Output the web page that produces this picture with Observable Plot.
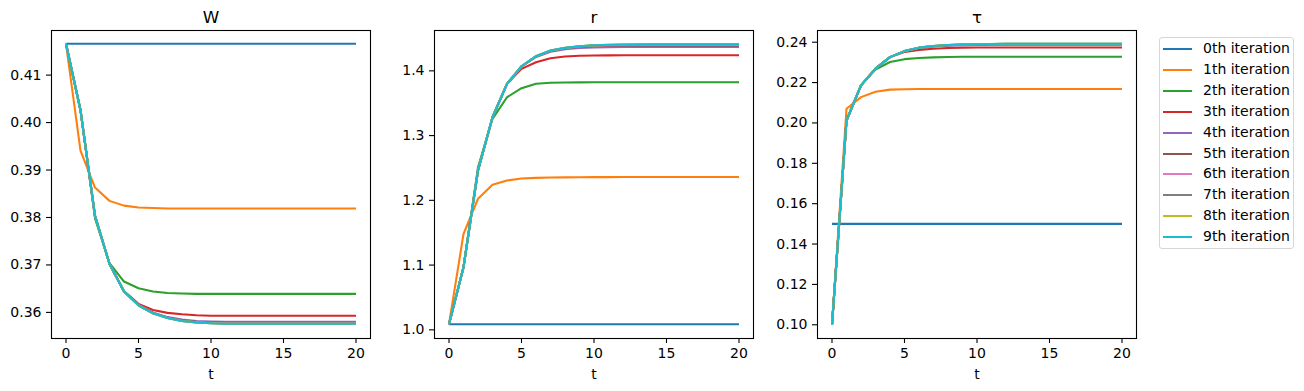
<!DOCTYPE html>
<html>
<head>
<meta charset="utf-8">
<script src="https://cdn.jsdelivr.net/npm/d3@7"></script>
<script src="https://cdn.jsdelivr.net/npm/@observablehq/plot@0.6"></script>
<style>
  html, body { margin: 0; padding: 0; background: #fff; }
  body { width: 1304px; height: 391px; position: relative; overflow: hidden; font-family: "DejaVu Sans", sans-serif; }
  .panel { position: absolute; top: 0; }
  #legend { position: absolute; left: 1159px; top: 37px; width: 135px; height: 212px; border: 1px solid #d6d6d6; border-radius: 3px; box-sizing: border-box; background: #fff; }
  .item { position: absolute; left: 0; height: 20px; width: 135px; font-size: 14px; color: #000; }
  .sw { position: absolute; left: 3px; width: 29px; height: 2px; }
  .lb { position: absolute; left: 43px; white-space: nowrap; }
</style>
</head>
<body>
<div id="p0" class="panel"></div>
<div id="p1" class="panel"></div>
<div id="p2" class="panel"></div>
<div id="legend"></div>
<script>
const t = [0,1,2,3,4,5,6,7,8,9,10,11,12,13,14,15,16,17,18,19,20];

const iterLabels = ["0th iteration","1th iteration","2th iteration","3th iteration","4th iteration",
                    "5th iteration","6th iteration","7th iteration","8th iteration","9th iteration"];
const iterColors = ["#1f77b4","#ff7f0e","#2ca02c","#d62728","#9467bd","#8c564b","#e377c2","#7f7f7f","#bcbd22","#17becf"];

const panelTitles = ["W", "r", "τ"];

const W_series = [
  [0.4166,0.4166,0.4166,0.4166,0.4166,0.4166,0.4166,0.4166,0.4166,0.4166,0.4166,0.4166,0.4166,0.4166,0.4166,0.4166,0.4166,0.4166,0.4166,0.4166,0.4166],
  [0.4166,0.3941,0.3863,0.3835,0.3825,0.3821,0.3820,0.3819,0.3819,0.3819,0.3819,0.3819,0.3819,0.3819,0.3819,0.3819,0.3819,0.3819,0.3819,0.3819,0.3819],
  [0.4166,0.4026,0.3798,0.3704,0.3665,0.3651,0.3644,0.3641,0.3640,0.3639,0.3639,0.3639,0.3639,0.3639,0.3639,0.3639,0.3639,0.3639,0.3639,0.3639,0.3639],
  [0.4166,0.4026,0.3803,0.3702,0.3645,0.3618,0.3605,0.3599,0.3596,0.3594,0.3593,0.3593,0.3593,0.3593,0.3593,0.3593,0.3593,0.3593,0.3593,0.3593,0.3593],
  [0.4166,0.4026,0.3803,0.3702,0.3644,0.3616,0.3600,0.3590,0.3585,0.3582,0.3581,0.3580,0.3580,0.3580,0.3580,0.3580,0.3580,0.3580,0.3580,0.3580,0.3580],
  [0.4166,0.4026,0.3804,0.3702,0.3644,0.3615,0.3598,0.3589,0.3583,0.3580,0.3579,0.3578,0.3578,0.3578,0.3578,0.3578,0.3578,0.3578,0.3578,0.3578,0.3578],
  [0.4166,0.4026,0.3804,0.3702,0.3644,0.3615,0.3598,0.3588,0.3582,0.3579,0.3578,0.3577,0.3577,0.3577,0.3577,0.3577,0.3577,0.3577,0.3577,0.3577,0.3577],
  [0.4166,0.4026,0.3804,0.3702,0.3644,0.3615,0.3598,0.3588,0.3582,0.3579,0.3577,0.3576,0.3576,0.3576,0.3576,0.3576,0.3576,0.3576,0.3576,0.3576,0.3576],
  [0.4166,0.4026,0.3804,0.3702,0.3644,0.3615,0.3598,0.3588,0.3582,0.3579,0.3577,0.3576,0.3576,0.3576,0.3576,0.3576,0.3576,0.3576,0.3576,0.3576,0.3576],
  [0.4166,0.4026,0.3804,0.3702,0.3644,0.3615,0.3598,0.3588,0.3582,0.3579,0.3577,0.3576,0.3576,0.3576,0.3576,0.3576,0.3576,0.3576,0.3576,0.3576,0.3576]
];

const r_series = [
  [1.0087,1.0087,1.0087,1.0087,1.0087,1.0087,1.0087,1.0087,1.0087,1.0087,1.0087,1.0087,1.0087,1.0087,1.0087,1.0087,1.0087,1.0087,1.0087,1.0087,1.0087],
  [1.0087,1.1480,1.2023,1.2240,1.2306,1.2337,1.2347,1.2352,1.2355,1.2357,1.2358,1.2359,1.2360,1.2360,1.2360,1.2360,1.2360,1.2360,1.2360,1.2360,1.2360],
  [1.0087,1.0967,1.2510,1.3259,1.3592,1.3732,1.3800,1.3815,1.3820,1.3822,1.3823,1.3824,1.3824,1.3824,1.3824,1.3824,1.3824,1.3824,1.3824,1.3824,1.3824],
  [1.0087,1.0967,1.2460,1.3283,1.3799,1.4030,1.4133,1.4195,1.4222,1.4232,1.4237,1.4239,1.4240,1.4240,1.4240,1.4240,1.4240,1.4240,1.4240,1.4240,1.4240],
  [1.0087,1.0967,1.2460,1.3283,1.3799,1.4065,1.4215,1.4295,1.4335,1.4353,1.4362,1.4366,1.4368,1.4370,1.4370,1.4370,1.4370,1.4370,1.4370,1.4370,1.4370],
  [1.0087,1.0967,1.2460,1.3283,1.3799,1.4069,1.4222,1.4307,1.4348,1.4372,1.4384,1.4389,1.4391,1.4392,1.4392,1.4392,1.4392,1.4392,1.4392,1.4392,1.4392],
  [1.0087,1.0967,1.2460,1.3283,1.3799,1.4070,1.4224,1.4310,1.4352,1.4376,1.4390,1.4397,1.4400,1.4401,1.4402,1.4402,1.4402,1.4402,1.4402,1.4402,1.4402],
  [1.0087,1.0967,1.2460,1.3283,1.3799,1.4071,1.4225,1.4312,1.4354,1.4378,1.4393,1.4400,1.4404,1.4405,1.4406,1.4406,1.4406,1.4406,1.4406,1.4406,1.4406],
  [1.0087,1.0967,1.2460,1.3283,1.3799,1.4071,1.4226,1.4313,1.4355,1.4379,1.4394,1.4401,1.4405,1.4407,1.4408,1.4408,1.4408,1.4408,1.4408,1.4408,1.4408],
  [1.0087,1.0967,1.2460,1.3283,1.3799,1.4071,1.4226,1.4313,1.4355,1.4380,1.4395,1.4402,1.4406,1.4408,1.4410,1.4410,1.4410,1.4410,1.4410,1.4410,1.4410]
];

const tau_series = [
  [0.1500,0.1500,0.1500,0.1500,0.1500,0.1500,0.1500,0.1500,0.1500,0.1500,0.1500,0.1500,0.1500,0.1500,0.1500,0.1500,0.1500,0.1500,0.1500,0.1500,0.1500],
  [0.1000,0.2070,0.2128,0.2155,0.2165,0.2167,0.2168,0.2168,0.2168,0.2168,0.2168,0.2168,0.2168,0.2168,0.2168,0.2168,0.2168,0.2168,0.2168,0.2168,0.2168],
  [0.1000,0.2012,0.2186,0.2264,0.2302,0.2316,0.2322,0.2325,0.2327,0.2328,0.2328,0.2328,0.2328,0.2328,0.2328,0.2328,0.2328,0.2328,0.2328,0.2328,0.2328],
  [0.1000,0.2012,0.2186,0.2269,0.2326,0.2351,0.2362,0.2368,0.2371,0.2373,0.2374,0.2374,0.2374,0.2374,0.2374,0.2374,0.2374,0.2374,0.2374,0.2374,0.2374],
  [0.1000,0.2012,0.2186,0.2269,0.2326,0.2355,0.2371,0.2379,0.2383,0.2385,0.2386,0.2387,0.2387,0.2387,0.2387,0.2387,0.2387,0.2387,0.2387,0.2387,0.2387],
  [0.1000,0.2012,0.2186,0.2269,0.2326,0.2356,0.2372,0.2380,0.2385,0.2388,0.2389,0.2390,0.2390,0.2390,0.2390,0.2390,0.2390,0.2390,0.2390,0.2390,0.2390],
  [0.1000,0.2012,0.2186,0.2269,0.2326,0.2356,0.2373,0.2381,0.2386,0.2388,0.2390,0.2391,0.2391,0.2391,0.2391,0.2391,0.2391,0.2391,0.2391,0.2391,0.2391],
  [0.1000,0.2012,0.2186,0.2269,0.2326,0.2356,0.2373,0.2381,0.2386,0.2389,0.2390,0.2391,0.2392,0.2392,0.2392,0.2392,0.2392,0.2392,0.2392,0.2392,0.2392],
  [0.1000,0.2012,0.2186,0.2269,0.2326,0.2356,0.2373,0.2381,0.2386,0.2389,0.2390,0.2391,0.2392,0.2392,0.2392,0.2392,0.2392,0.2392,0.2392,0.2392,0.2392],
  [0.1000,0.2012,0.2186,0.2269,0.2326,0.2356,0.2373,0.2381,0.2386,0.2389,0.2390,0.2391,0.2392,0.2392,0.2392,0.2392,0.2392,0.2392,0.2392,0.2392,0.2392]
];

const W_ticks = [0.36,0.37,0.38,0.39,0.40,0.41];
const r_ticks = [1.0,1.1,1.2,1.3,1.4];
const tau_ticks = [0.10,0.12,0.14,0.16,0.18,0.20,0.22,0.24];
const t_ticks = [0,5,10,15,20];

function rows(series) {
  const out = [];
  series.forEach((vals, i) => vals.forEach((v, j) => out.push({t: t[j], v, iter: iterLabels[i]})));
  return out;
}

const panels = [
  {id: "p0", left: 1,     series: W_series,   ticks: W_ticks,   fmt: ".2f", domain: [0.3545, 0.4194]},
  {id: "p1", left: 384.3, series: r_series,   ticks: r_ticks,   fmt: ".1f", domain: [0.9866, 1.4623]},
  {id: "p2", left: 767.3, series: tau_series, ticks: tau_ticks, fmt: ".2f", domain: [0.0932, 0.2458]}
];

panels.forEach((p, k) => {
  const data = rows(p.series);
  const chart = Plot.plot({
    width: 380, height: 391,
    marginLeft: 50, marginRight: 11, marginTop: 30, marginBottom: 53,
    style: {fontFamily: "DejaVu Sans, sans-serif", fontSize: "14px", color: "#000", background: "transparent", overflow: "visible"},
    x: {domain: [-1, 21]},
    y: {domain: p.domain},
    color: {domain: iterLabels, range: iterColors},
    marks: [
      Plot.axisX({ticks: t_ticks, tickSize: 5, tickPadding: 5, tickFormat: d3.format("d"), label: null, strokeWidth: 1.1}),
      Plot.axisY({ticks: p.ticks, tickSize: 5, tickPadding: 5, tickFormat: d3.format(p.fmt), label: null, strokeWidth: 1.1}),
      Plot.line(data, {x: "t", y: "v", z: "iter", stroke: "iter", strokeWidth: 2.08, strokeLinejoin: "round", strokeLinecap: "butt"}),
      Plot.frame({stroke: "#000", strokeWidth: 1.1}),
      Plot.text([panelTitles[k]], {frameAnchor: "top", dy: -13, text: d => d, fontSize: 16.7, lineAnchor: "middle", fill: "#000"}),
      Plot.text(["t"], {frameAnchor: "bottom", dy: 36, text: d => d, fontSize: 14, lineAnchor: "middle", fill: "#000"})
    ]
  });
  const el = document.getElementById(p.id);
  el.style.left = p.left + "px";
  el.appendChild(chart);
});

const legend = document.getElementById("legend");
iterLabels.forEach((lab, i) => {
  const item = document.createElement("div");
  item.className = "item";
  item.style.top = (1 + 20.9 * i) + "px";
  const sw = document.createElement("div");
  sw.className = "sw";
  sw.style.background = iterColors[i];
  sw.style.top = "9px";
  const lb = document.createElement("div");
  lb.className = "lb";
  lb.textContent = lab;
  lb.style.top = "1px";
  item.appendChild(sw);
  item.appendChild(lb);
  legend.appendChild(item);
});
</script>
</body>
</html>
